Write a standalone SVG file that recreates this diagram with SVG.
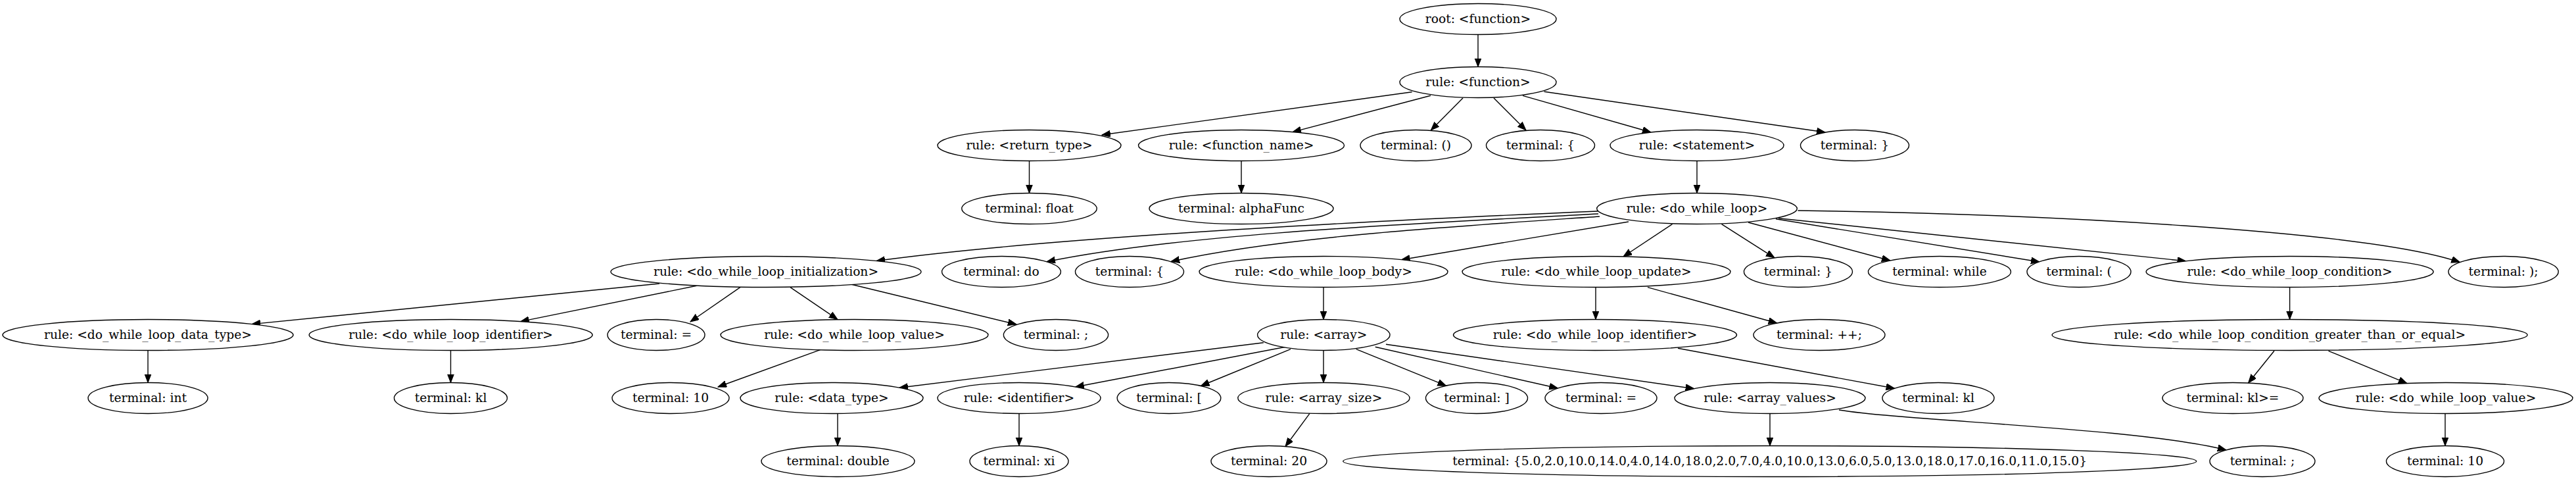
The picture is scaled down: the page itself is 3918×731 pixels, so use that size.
<svg xmlns="http://www.w3.org/2000/svg" width="3918" height="731" viewBox="0 0 3918 731">
<style>
ellipse{fill:#fff;stroke:#000;stroke-width:1.4}
text{font-family:"DejaVu Serif",serif;font-size:18.67px;text-anchor:middle;fill:#000}
.e path{fill:none;stroke:#000;stroke-width:1.4;marker-end:url(#ah)}
</style>
<defs>
<marker id="ah" markerUnits="userSpaceOnUse" markerWidth="14" markerHeight="11" refX="13" refY="5" orient="auto"><path d="M0,0 L13,5 L0,10 z" fill="#000" stroke="#000" stroke-width="1"/></marker>
</defs>
<rect width="3918" height="731" fill="#fff"/>
<g id="connectors" class="e">
<path d="M2248,52.5 L2248,101.5"/>
<path d="M2147.6,139.7 L1676,205"/>
<path d="M2176,145.3 L1966,200.6"/>
<path d="M2225,149 L2176.3,198"/>
<path d="M2272,149 L2321,198"/>
<path d="M2316,145.3 L2511,201"/>
<path d="M2348.5,139.3 L2776,201"/>
<path d="M1565.5,244.5 L1565.5,293.5"/>
<path d="M1888,244.5 L1888,293.5"/>
<path d="M2581,244.5 L2581,293.5"/>
<path d="M2430,321 C2100,335 1600,360 1333,396.5"/>
<path d="M2431,325 C2150,340 1800,355 1592,397.8"/>
<path d="M2433,329 C2200,345 1950,360 1781,397.5"/>
<path d="M2477,337 L2131.5,394.7"/>
<path d="M2543.5,340.7 L2469,390"/>
<path d="M2618.5,340.7 L2699,391.8"/>
<path d="M2659,338 L2875,396"/>
<path d="M2701,332.7 L3102,398"/>
<path d="M2705,331.7 L3324.6,396.8"/>
<path d="M2734.5,320 C3100,325 3600,350 3741.5,398.6"/>
<path d="M1003,431 L383,492.6"/>
<path d="M1059.5,434.3 L791.7,488.6"/>
<path d="M1125.8,436.7 L1050,489"/>
<path d="M1202,436.7 L1274,485.5"/>
<path d="M1290,431 L1546,493"/>
<path d="M2013,436.5 L2013,485.5"/>
<path d="M2427,436.5 L2427,485.5"/>
<path d="M2506,436.7 L2702.6,491"/>
<path d="M3482.6,436.5 L3482.6,485.5"/>
<path d="M225,532.5 L225,581.5"/>
<path d="M685.5,532.5 L685.5,581.5"/>
<path d="M1247.6,531.7 L1092,588"/>
<path d="M1921.8,520.7 L1368,589.2"/>
<path d="M1955,527.3 L1635.7,588"/>
<path d="M1963,530.7 L1826.4,586.5"/>
<path d="M2013,532.5 L2013,581.5"/>
<path d="M2062.7,530.7 L2199.5,586.2"/>
<path d="M2091.7,527.3 L2369.4,590"/>
<path d="M2108,523.3 L2576.7,590.7"/>
<path d="M2552,529.3 L2881.6,590.3"/>
<path d="M3459,533.3 L3419.6,582"/>
<path d="M3541.5,533.3 L3661,582.6"/>
<path d="M1274,628.5 L1274,677.5"/>
<path d="M1550,628.5 L1550,677.5"/>
<path d="M1992,628.3 L1955,678.5"/>
<path d="M2692,628.5 L2692,677.5"/>
<path d="M2797,623 C2900,640 3250,650 3386,683.9"/>
<path d="M3719,628.5 L3719,677.5"/>
</g>
<g id="n_root"><ellipse cx="2248" cy="29" rx="119" ry="23.5"/><text x="2248" y="34.5">root: &lt;function&gt;</text></g>
<g id="n_function"><ellipse cx="2248" cy="125" rx="119" ry="23.5"/><text x="2248" y="130.5">rule: &lt;function&gt;</text></g>
<g id="n_return_type"><ellipse cx="1565.5" cy="221" rx="139.5" ry="23.5"/><text x="1565.5" y="226.5">rule: &lt;return_type&gt;</text></g>
<g id="n_function_name"><ellipse cx="1888" cy="221" rx="156.5" ry="23.5"/><text x="1888" y="226.5">rule: &lt;function_name&gt;</text></g>
<g id="n_paren"><ellipse cx="2153.5" cy="221" rx="84.5" ry="23.5"/><text x="2153.5" y="226.5">terminal: ()</text></g>
<g id="n_lbrace1"><ellipse cx="2343" cy="221" rx="82.5" ry="23.5"/><text x="2343" y="226.5">terminal: {</text></g>
<g id="n_statement"><ellipse cx="2581" cy="221" rx="132" ry="23.5"/><text x="2581" y="226.5">rule: &lt;statement&gt;</text></g>
<g id="n_rbrace1"><ellipse cx="2821" cy="221" rx="82.5" ry="23.5"/><text x="2821" y="226.5">terminal: }</text></g>
<g id="n_float"><ellipse cx="1565.5" cy="317" rx="102.7" ry="23.5"/><text x="1565.5" y="322.5">terminal: float</text></g>
<g id="n_alphaFunc"><ellipse cx="1888" cy="317" rx="140" ry="23.5"/><text x="1888" y="322.5">terminal: alphaFunc</text></g>
<g id="n_do_while_loop"><ellipse cx="2581" cy="317" rx="152.3" ry="23.5"/><text x="2581" y="322.5">rule: &lt;do_while_loop&gt;</text></g>
<g id="n_init"><ellipse cx="1165" cy="413" rx="236" ry="23.5"/><text x="1165" y="418.5">rule: &lt;do_while_loop_initialization&gt;</text></g>
<g id="n_do"><ellipse cx="1523" cy="413" rx="90.4" ry="23.5"/><text x="1523" y="418.5">terminal: do</text></g>
<g id="n_lbrace2"><ellipse cx="1718" cy="413" rx="82.5" ry="23.5"/><text x="1718" y="418.5">terminal: {</text></g>
<g id="n_body"><ellipse cx="2013" cy="413" rx="189" ry="23.5"/><text x="2013" y="418.5">rule: &lt;do_while_loop_body&gt;</text></g>
<g id="n_update"><ellipse cx="2428" cy="413" rx="204" ry="23.5"/><text x="2428" y="418.5">rule: &lt;do_while_loop_update&gt;</text></g>
<g id="n_rbrace2"><ellipse cx="2735" cy="413" rx="82.5" ry="23.5"/><text x="2735" y="418.5">terminal: }</text></g>
<g id="n_while"><ellipse cx="2950" cy="413" rx="108.5" ry="23.5"/><text x="2950" y="418.5">terminal: while</text></g>
<g id="n_lparen"><ellipse cx="3162" cy="413" rx="79" ry="23.5"/><text x="3162" y="418.5">terminal: (</text></g>
<g id="n_condition"><ellipse cx="3482.6" cy="413" rx="218.5" ry="23.5"/><text x="3482.6" y="418.5">rule: &lt;do_while_loop_condition&gt;</text></g>
<g id="n_rparen_semi"><ellipse cx="3807.6" cy="413" rx="83.6" ry="23.5"/><text x="3807.6" y="418.5">terminal: );</text></g>
<g id="n_dw_data_type"><ellipse cx="225" cy="509" rx="221" ry="23.5"/><text x="225" y="514.5">rule: &lt;do_while_loop_data_type&gt;</text></g>
<g id="n_dw_identifier"><ellipse cx="685.6" cy="509" rx="215.5" ry="23.5"/><text x="685.6" y="514.5">rule: &lt;do_while_loop_identifier&gt;</text></g>
<g id="n_eq1"><ellipse cx="998" cy="509" rx="74" ry="23.5"/><text x="998" y="514.5">terminal: =</text></g>
<g id="n_dw_value1"><ellipse cx="1299.5" cy="509" rx="203.5" ry="23.5"/><text x="1299.5" y="514.5">rule: &lt;do_while_loop_value&gt;</text></g>
<g id="n_semi1"><ellipse cx="1606" cy="509" rx="79.6" ry="23.5"/><text x="1606" y="514.5">terminal: ;</text></g>
<g id="n_array"><ellipse cx="2013.3" cy="509" rx="100.7" ry="23.5"/><text x="2013.3" y="514.5">rule: &lt;array&gt;</text></g>
<g id="n_dw_identifier2"><ellipse cx="2426" cy="509" rx="215.5" ry="23.5"/><text x="2426" y="514.5">rule: &lt;do_while_loop_identifier&gt;</text></g>
<g id="n_incr"><ellipse cx="2767" cy="509" rx="100" ry="23.5"/><text x="2767" y="514.5">terminal: ++;</text></g>
<g id="n_greater"><ellipse cx="3482.6" cy="509" rx="361.5" ry="23.5"/><text x="3482.6" y="514.5">rule: &lt;do_while_loop_condition_greater_than_or_equal&gt;</text></g>
<g id="n_int"><ellipse cx="225" cy="605" rx="91" ry="23.5"/><text x="225" y="610.5">terminal: int</text></g>
<g id="n_kl1"><ellipse cx="685.5" cy="605" rx="86" ry="23.5"/><text x="685.5" y="610.5">terminal: kl</text></g>
<g id="n_ten1"><ellipse cx="1020" cy="605" rx="89" ry="23.5"/><text x="1020" y="610.5">terminal: 10</text></g>
<g id="n_data_type"><ellipse cx="1265" cy="605" rx="139" ry="23.5"/><text x="1265" y="610.5">rule: &lt;data_type&gt;</text></g>
<g id="n_identifier"><ellipse cx="1550" cy="605" rx="124" ry="23.5"/><text x="1550" y="610.5">rule: &lt;identifier&gt;</text></g>
<g id="n_lbracket"><ellipse cx="1778" cy="605" rx="78.8" ry="23.5"/><text x="1778" y="610.5">terminal: [</text></g>
<g id="n_array_size"><ellipse cx="2013.4" cy="605" rx="130.6" ry="23.5"/><text x="2013.4" y="610.5">rule: &lt;array_size&gt;</text></g>
<g id="n_rbracket"><ellipse cx="2246" cy="605" rx="77.5" ry="23.5"/><text x="2246" y="610.5">terminal: ]</text></g>
<g id="n_eq2"><ellipse cx="2435" cy="605" rx="85" ry="23.5"/><text x="2435" y="610.5">terminal: =</text></g>
<g id="n_array_values"><ellipse cx="2692" cy="605" rx="145" ry="23.5"/><text x="2692" y="610.5">rule: &lt;array_values&gt;</text></g>
<g id="n_kl2"><ellipse cx="2948" cy="605" rx="85" ry="23.5"/><text x="2948" y="610.5">terminal: kl</text></g>
<g id="n_klge"><ellipse cx="3396" cy="605" rx="107" ry="23.5"/><text x="3396" y="610.5">terminal: kl&gt;=</text></g>
<g id="n_dw_value2"><ellipse cx="3720" cy="605" rx="193" ry="23.5"/><text x="3720" y="610.5">rule: &lt;do_while_loop_value&gt;</text></g>
<g id="n_double"><ellipse cx="1274.5" cy="701" rx="116.5" ry="23.5"/><text x="1274.5" y="706.5">terminal: double</text></g>
<g id="n_xi"><ellipse cx="1550" cy="701" rx="75" ry="23.5"/><text x="1550" y="706.5">terminal: xi</text></g>
<g id="n_twenty"><ellipse cx="1930" cy="701" rx="88" ry="23.5"/><text x="1930" y="706.5">terminal: 20</text></g>
<g id="n_values"><ellipse cx="2691.7" cy="701" rx="649" ry="23.5"/><text x="2691.7" y="706.5">terminal: {5.0,2.0,10.0,14.0,4.0,14.0,18.0,2.0,7.0,4.0,10.0,13.0,6.0,5.0,13.0,18.0,17.0,16.0,11.0,15.0}</text></g>
<g id="n_semi2"><ellipse cx="3441" cy="701" rx="80" ry="23.5"/><text x="3441" y="706.5">terminal: ;</text></g>
<g id="n_ten2"><ellipse cx="3719" cy="701" rx="89.5" ry="23.5"/><text x="3719" y="706.5">terminal: 10</text></g>
</svg>
